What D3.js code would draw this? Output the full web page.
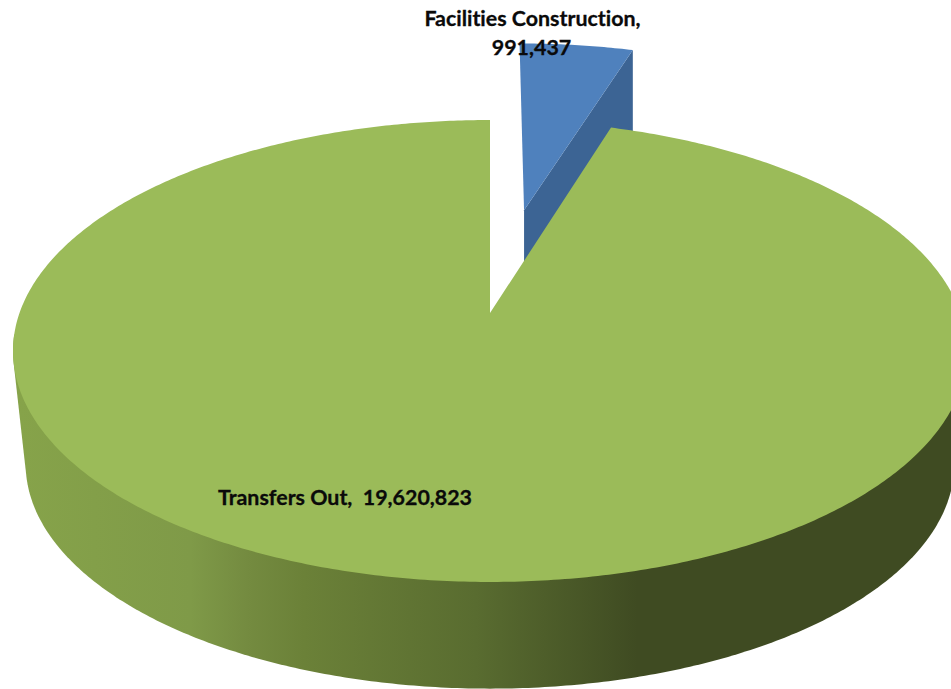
<!DOCTYPE html>
<html>
<head>
<meta charset="utf-8">
<script src="https://cdnjs.cloudflare.com/ajax/libs/d3/7.8.5/d3.min.js"></script>
<style>
  html,body{margin:0;padding:0;background:#fff;overflow:hidden;}
  svg{display:block;}
  text{font-family:Lato,"Open Sans",sans-serif;font-weight:700;fill:#0a0a0a;font-size:21.4px;
    font-variant-ligatures:none;stroke:#0a0a0a;stroke-width:0.3px;}
</style>
</head>
<body>
<script>
const categories = ['Facilities Construction', 'Transfers Out'];
const values = [991437, 19620823];
const topColors = ['#4f81bd', '#9bbb59'];

const W = 951, H = 689;

// perspective disc: u right, v away from the viewer, radius 1
const persp = 0.1645;
const topFace = {x0:490, y0:313, k:470.5, h:224.7};
const baseFace = {x0:490, y0:427, k:458, h:218.6};
const explode = 0.5;

function project(face, u, v){
  const d = 1 + persp*v;
  return [face.x0 + face.k*u/d, face.y0 - face.h*v/d];
}
function rimPoint(face, a, off){
  return project(face, Math.sin(a) + off[0], Math.cos(a) + off[1]);
}

const arcs = d3.pie().sort(null).value(d => d).startAngle(0).endAngle(2*Math.PI)(values);
const line = d3.line();

function sweep(a0, a1){
  const n = Math.max(2, Math.ceil((a1-a0)/0.01));
  return d3.range(n+1).map(i => a0 + (a1-a0)*i/n);
}
function wedge(face, arc, off){
  const pts = [project(face, off[0], off[1])];
  sweep(arc.startAngle, arc.endAngle).forEach(a => pts.push(rimPoint(face, a, off)));
  return line(pts) + 'Z';
}

const svg = d3.select('body').append('svg').attr('width', W).attr('height', H);

const grad = svg.append('defs').append('linearGradient')
  .attr('id', 'wallGreen').attr('gradientUnits', 'userSpaceOnUse')
  .attr('x1', 0).attr('x2', W).attr('y1', 0).attr('y2', 0);
[[0,'#87a44a'],[0.2,'#7f9a48'],[0.26,'#748b40'],[0.32,'#6b8138'],[0.5,'#596c30'],[0.67,'#3f4b22'],[1,'#3f4b22']]
  .forEach(s => grad.append('stop').attr('offset', s[0]).attr('stop-color', s[1]));

// exploded slice: cut face first, then its top
const blue = arcs[0], green = arcs[1];
const mid = (blue.startAngle + blue.endAngle)/2;
const off = [explode*Math.sin(mid) + 0.003, explode*Math.cos(mid)];
const noOff = [0, 0];

const blueTopApex = project(topFace, off[0], off[1]);
const blueTopRim = rimPoint(topFace, blue.endAngle, off);
const blueBaseApex = project(baseFace, off[0], off[1]);
const blueBaseRim = rimPoint(baseFace, blue.endAngle, off);
svg.append('path')
  .attr('d', line([blueTopApex, blueTopRim, [blueTopRim[0], blueBaseRim[1]], [blueTopApex[0], blueBaseApex[1]]]) + 'Z')
  .attr('fill', '#3c6494');
svg.append('path').attr('d', wedge(topFace, blue, off)).attr('fill', topColors[0]);

// big slice: side wall is the hull of the front of both rims, top goes over it
const front = sweep(Math.PI*0.53, Math.PI*1.47);
const wallPts = d3.polygonHull(front.map(a => rimPoint(topFace, a, noOff))
  .concat(front.map(a => rimPoint(baseFace, a, noOff))));
svg.append('path').attr('d', line(wallPts) + 'Z').attr('fill', 'url(#wallGreen)');
svg.append('path').attr('d', wedge(topFace, green, noOff)).attr('fill', topColors[1]);

// labels
const fmt = d3.format(',');
svg.append('text').attr('x', 532.5).attr('y', 26).attr('text-anchor', 'middle')
  .text(categories[0] + ',');
svg.append('text').attr('x', 531.5).attr('y', 55).attr('text-anchor', 'middle')
  .text(fmt(values[0]));
svg.append('text').attr('x', 218).attr('y', 505)
  .style('white-space', 'pre')
  .text(categories[1] + ',  ' + fmt(values[1]));
</script>
</body>
</html>
